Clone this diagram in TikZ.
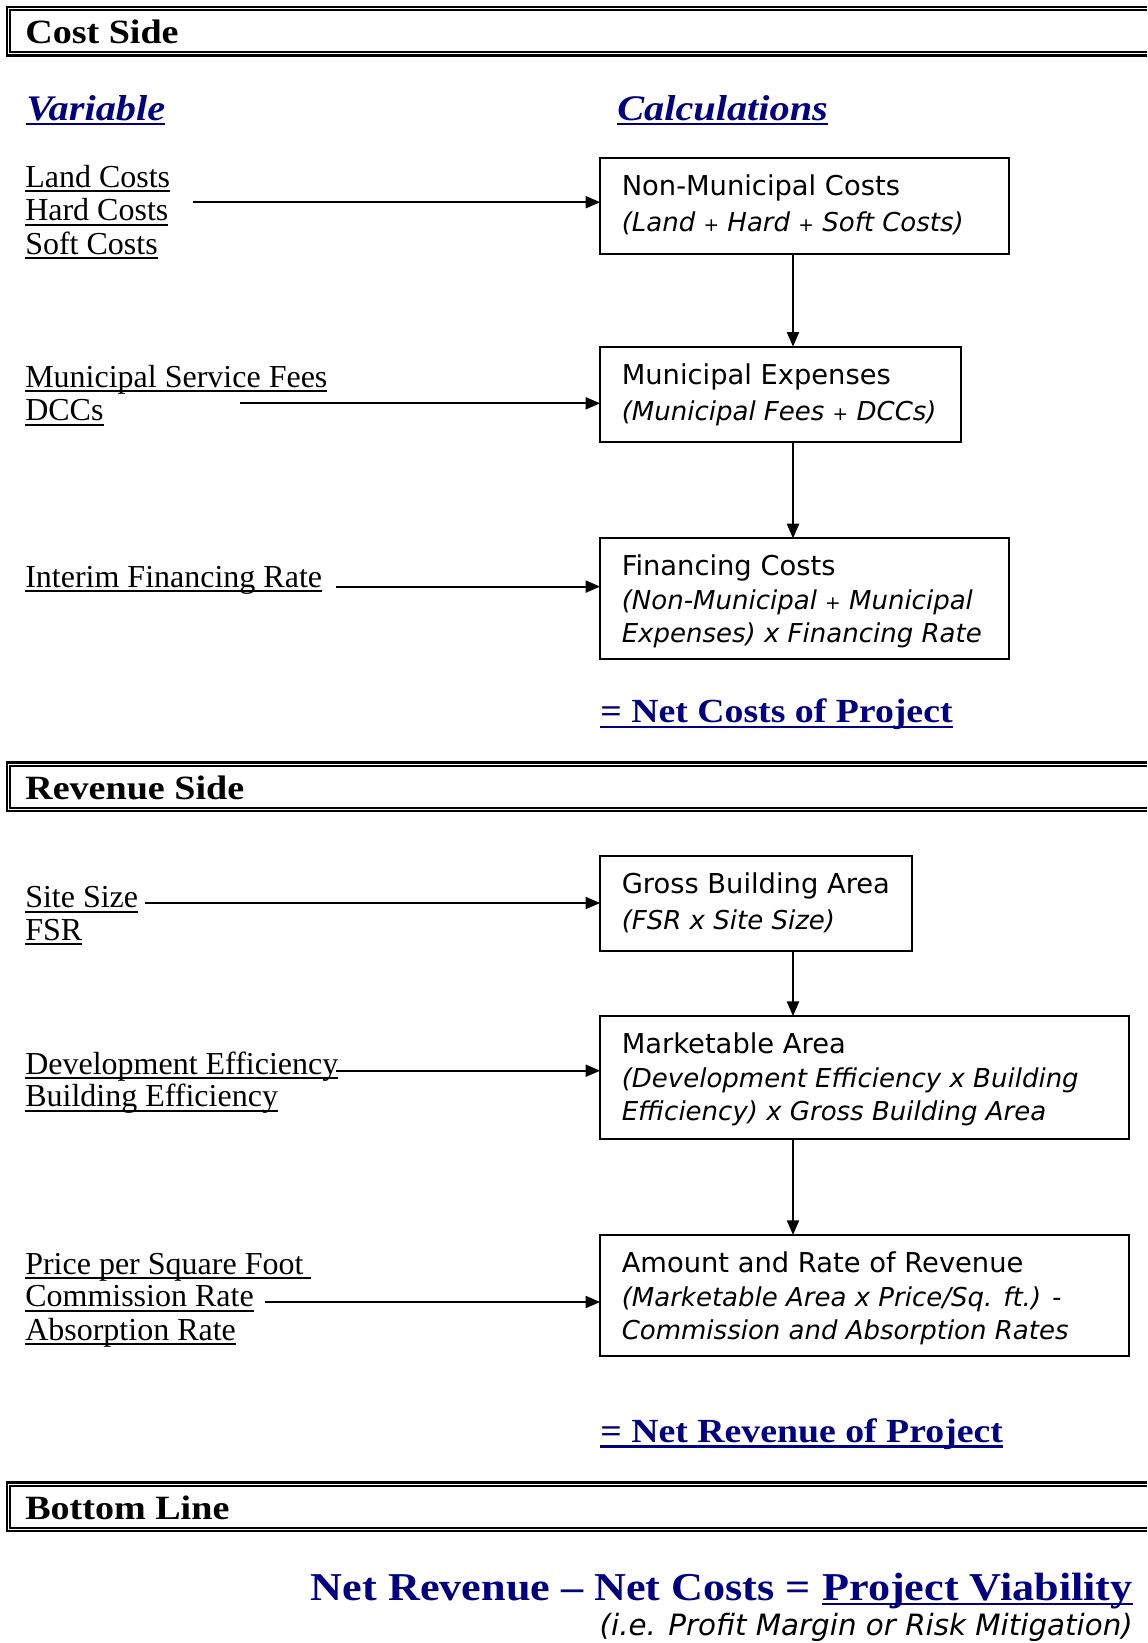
\documentclass[tikz,border=0pt]{standalone}
\usepackage{fontspec}
\setmainfont{Liberation Serif}
\newfontfamily\hdfamily[FakeStretch=1.12]{Liberation Serif}
\newfontfamily\bxfamily{DejaVu Sans}
\usetikzlibrary{arrows.meta}
\definecolor{navy}{RGB}{0,0,128}
\newcommand\ulx[1]{\setbox0=\hbox{#1}\rlap{\rule[-3.75pt]{\wd0}{1.5pt}}\box0}
\newcommand\ulb[1]{\setbox0=\hbox{#1}\rlap{\rule[-4.1pt]{\wd0}{1.9pt}}\box0}
\newcommand\smp{{\fontsize{14pt}{14pt}\selectfont +}}
\tikzset{
  lbl/.style={anchor=base west, inner sep=0pt, font=\fontsize{24pt}{25pt}\selectfont},
  hdr/.style={anchor=base west, inner sep=0pt, font=\hdfamily\bfseries\fontsize{25.5pt}{27pt}\selectfont},
  ttl/.style={anchor=base west, inner sep=0pt, text=navy, font=\hdfamily\bfseries\itshape\fontsize{27pt}{29pt}\selectfont},
  tot/.style={anchor=base west, inner sep=0pt, text=navy, font=\hdfamily\bfseries\fontsize{25.3pt}{27pt}\selectfont},
  calcbox/.style={draw, line width=1.5pt, anchor=north west, inner sep=0pt, outer sep=0pt},
  btx/.style={anchor=base west, inner sep=0pt, font=\bxfamily\fontsize{20.5pt}{25pt}\selectfont},
  bti/.style={anchor=base west, inner sep=0pt, font=\bxfamily\itshape\fontsize{19.5pt}{25pt}\selectfont},
  arr/.style={line width=1.6pt, -{Triangle[length=11pt,width=9pt]}},
  hdrout/.style={line width=1.7pt},
  hdrin/.style={line width=1.4pt},
}
\begin{document}
\begin{tikzpicture}[x=0.75pt,y=-0.75pt]
\useasboundingbox[fill=white] (0,0) rectangle (1147,1643);

% ---------- header bars ----------
\draw[hdrout] (1147,7) -| (7,55.5) -- (1147,55.5);
\draw[hdrin] (1147,10.4) -| (10.4,52.1) -- (1147,52.1);
\node[hdr] (h1) at (25,43) {Cost Side};

\draw[hdrout] (1147,762.5) -| (7,811) -- (1147,811);
\draw[hdrin] (1147,765.9) -| (10.4,807.6) -- (1147,807.6);
\node[hdr] (h2) at (25,799) {Revenue Side};

\draw[hdrout] (1147,1482.5) -| (7,1531) -- (1147,1531);
\draw[hdrin] (1147,1485.9) -| (10.4,1527.6) -- (1147,1527.6);
\node[hdr] (h3) at (25,1519) {Bottom Line};

% ---------- titles ----------
\node[ttl] (tv) at (26,120) {\ulb{Variable}};
\node[ttl] (tc) at (617,120) {\ulb{Calculations}};

% ---------- variable labels ----------
\node[lbl] (l1a) at (25,187) {\ulx{Land Costs}};
\node[lbl] (l1b) at (25,220.5) {\ulx{Hard Costs}};
\node[lbl] (l1c) at (25,254) {\ulx{Soft Costs}};
\node[lbl] (l2a) at (25,387) {\ulx{Municipal Service Fees}};
\node[lbl] (l2b) at (25,420.6) {\ulx{DCCs}};
\node[lbl] (l3a) at (25,587.1) {\ulx{Interim Financing Rate}};
\node[lbl] (l4a) at (25,907.6) {\ulx{Site Size}};
\node[lbl] (l4b) at (25,940.1) {\ulx{FSR}};
\node[lbl] (l5a) at (25,1074.2) {\ulx{Development Efficiency}};
\node[lbl] (l5b) at (25,1106.7) {\ulx{Building Efficiency}};
\node[lbl] (l6a) at (25,1274.3) {\ulx{Price per Square Foot\ }};
\node[lbl] (l6b) at (25,1306.7) {\ulx{Commission Rate}};
\node[lbl] (l6c) at (25,1340.3) {\ulx{Absorption Rate}};

% ---------- calculation boxes ----------
\node[calcbox, minimum width=306.45pt, minimum height=71.5pt] (b1) at (600.2,158.2) {};
\node[btx] (b1t1) at (621.5,195.7) {Non-Municipal Costs};
\node[bti] (b1t2) at (621.5,231.7) {(Land \smp\ Hard \smp\ Soft Costs)};

\node[calcbox, minimum width=270.3pt, minimum height=71.5pt] (b2) at (600.2,346.7) {};
\node[btx] (b2t1) at (621.5,384.2) {Municipal Expenses};
\node[bti] (b2t2) at (621.5,420.2) {(Municipal Fees \smp\ DCCs)};

\node[calcbox, minimum width=306.45pt, minimum height=90.4pt] (b3) at (600.2,538.4) {};
\node[btx] (b3t1) at (621.5,575.9) {Financing Costs};
\node[bti] (b3t2) at (621.5,609.4) {(Non-Municipal \smp\ Municipal};
\node[bti] (b3t3) at (621.5,642.9) {Expenses) x Financing Rate};

\node[tot] (nc) at (600,722.7) {\ulb{= Net Costs of Project}};

\node[calcbox, minimum width=234.15pt, minimum height=71.5pt] (b4) at (600.2,855.8) {};
\node[btx] (b4t1) at (621.5,893.3) {Gross Building Area};
\node[bti] (b4t2) at (621.5,929.3) {(FSR x Site Size)};

\node[calcbox, minimum width=396.75pt, minimum height=91.9pt] (b5) at (600.2,1016.1) {};
\node[btx] (b5t1) at (621.5,1053.6) {Marketable Area};
\node[bti] (b5t2) at (621.5,1087.1) {(Development Efficiency x Building};
\node[bti] (b5t3) at (621.5,1120.6) {Efficiency) x Gross Building Area};

\node[calcbox, minimum width=396.75pt, minimum height=90.4pt] (b6) at (600.2,1235) {};
\node[btx] (b6t1) at (621.5,1272.5) {Amount and Rate of Revenue};
\node[bti] (b6t2) at (621.5,1306) {(Marketable Area x Price/Sq. ft.) -};
\node[bti] (b6t3) at (621.5,1339.5) {Commission and Absorption Rates};

\node[tot] (nr) at (600,1442.3) {\ulb{= Net Revenue of Project}};

% ---------- bottom line ----------
\node[anchor=base east, inner sep=0pt, text=navy, font=\hdfamily\bfseries\fontsize{29.6pt}{31pt}\selectfont] (eq) at (1133,1600) {Net Revenue – Net Costs = \ulb{Project Viability}};
\node[anchor=base east, inner sep=0pt, font=\bxfamily\itshape\fontsize{22pt}{25pt}\selectfont] (note) at (1133,1635) {(i.e. Profit Margin or Risk Mitigation)};

% ---------- connectors ----------
\coordinate (s1) at (192.7,202.2);
\coordinate (s2) at (239.9,403.3);
\coordinate (s3) at (336.2,586.6);
\coordinate (s4) at (144.6,903);
\coordinate (s5) at (336.2,1070.7);
\coordinate (s6) at (265,1302);
\draw[arr] (s1) -- (s1 -| b1.west);
\draw[arr] (s2) -- (s2 -| b2.west);
\draw[arr] (s3) -- (s3 -| b3.west);
\draw[arr] (s4) -- (s4 -| b4.west);
\draw[arr] (s5) -- (s5 -| b5.west);
\draw[arr] (s6) -- (s6 -| b6.west);

\coordinate (vx) at (793,0);
\draw[arr] (b1.south -| vx) -- (b2.north -| vx);
\draw[arr] (b2.south -| vx) -- (b3.north -| vx);
\draw[arr] (b4.south -| vx) -- (b5.north -| vx);
\draw[arr] (b5.south -| vx) -- (b6.north -| vx);
\end{tikzpicture}
\end{document}
